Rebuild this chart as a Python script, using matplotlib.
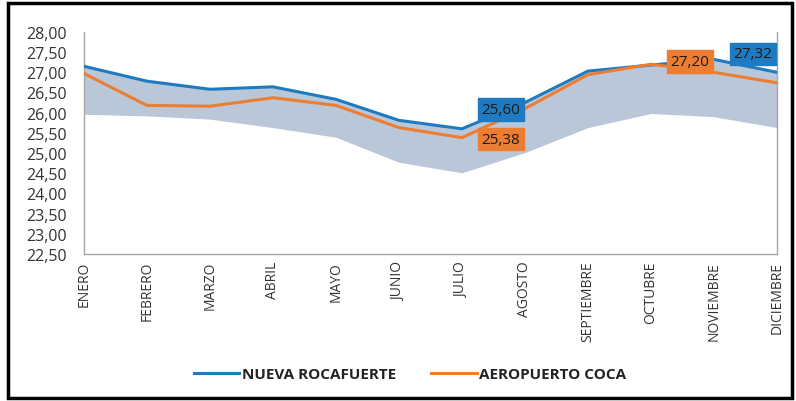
import matplotlib
matplotlib.use("Agg")
import matplotlib.pyplot as plt
from matplotlib.patches import Rectangle
import numpy as np

meses = ["ENERO", "FEBRERO", "MARZO", "ABRIL", "MAYO", "JUNIO", "JULIO",
         "AGOSTO", "SEPTIEMBRE", "OCTUBRE", "NOVIEMBRE", "DICIEMBRE"]

# temperatura media mensual (°C)
nueva_rocafuerte = [27.15, 26.78, 26.58, 26.64, 26.33, 25.81, 25.60,
                    26.25, 27.03, 27.18, 27.32, 27.00]
aeropuerto_coca = [26.97, 26.18, 26.16, 26.37, 26.18, 25.63, 25.38,
                   26.10, 26.94, 27.20, 27.00, 26.74]
# limite inferior de la banda sombreada
banda_inf = [25.96, 25.92, 25.84, 25.63, 25.39, 24.77, 24.51,
             25.01, 25.63, 25.98, 25.90, 25.63]

yticks = np.arange(22.5, 28.01, 0.5)

AZUL = "#1f7bc1"
NARANJA = "#ed7d31"
BANDA = "#b9c7d9"

plt.rcParams['font.family'] = ['Open Sans', 'DejaVu Sans']

fig = plt.figure(figsize=(7.96, 4.02), dpi=100)
ax = fig.add_axes([0.1055, 0.366, 0.8705, 0.552])

x = np.arange(len(meses))
ax.fill_between(x, banda_inf, nueva_rocafuerte, color=BANDA, lw=0, zorder=1)
ax.plot(x, nueva_rocafuerte, color=AZUL, lw=2.2, label="NUEVA ROCAFUERTE", zorder=3)
ax.plot(x, aeropuerto_coca, color=NARANJA, lw=2.2, label="AEROPUERTO COCA", zorder=3)

ax.set_xlim(0, len(meses) - 1)
ax.set_ylim(22.5, 28.0)
ax.set_yticks(yticks)
ax.set_yticklabels([f"{v:.2f}".replace(".", ",") for v in yticks], fontsize=11.5, color="#333333")
ax.set_xticks(x)
ax.set_xticklabels(meses, rotation=90, fontsize=10, color="#333333", va="top")
ax.tick_params(axis="y", length=0, pad=12)
ax.tick_params(axis="x", length=0, pad=5)

ax.spines["top"].set_visible(False)
for s in ["left", "bottom", "right"]:
    ax.spines[s].set_color("#a6a6a6")
    ax.spines[s].set_linewidth(1)


def etiqueta(i, serie, color, dy):
    v = serie[i]
    ax.annotate(f"{v:.2f}".replace(".", ","), xy=(i, v), xytext=(28, dy),
                textcoords="offset points", ha="center", va="center",
                fontsize=11, color="#1a1a1a", zorder=5,
                bbox=dict(boxstyle="square,pad=0.25", fc=color, ec=color))


etiqueta(6, nueva_rocafuerte, AZUL, 14)
etiqueta(6, aeropuerto_coca, NARANJA, -1)
etiqueta(9, aeropuerto_coca, NARANJA, 2)
etiqueta(10, nueva_rocafuerte, AZUL, 4)

leg = fig.legend(loc="center", bbox_to_anchor=(0.515, 0.067), ncol=2, frameon=False,
                 handlelength=3.0, columnspacing=2.3, handletextpad=0.15,
                 prop={"weight": "bold", "size": 11})
for t in leg.get_texts():
    t.set_color("#222222")

fig.patches.append(Rectangle((0.01, 0.008), 0.985, 0.983, transform=fig.transFigure,
                             fill=False, ec="black", lw=2.5))

fig.savefig("out.png", dpi=100)
